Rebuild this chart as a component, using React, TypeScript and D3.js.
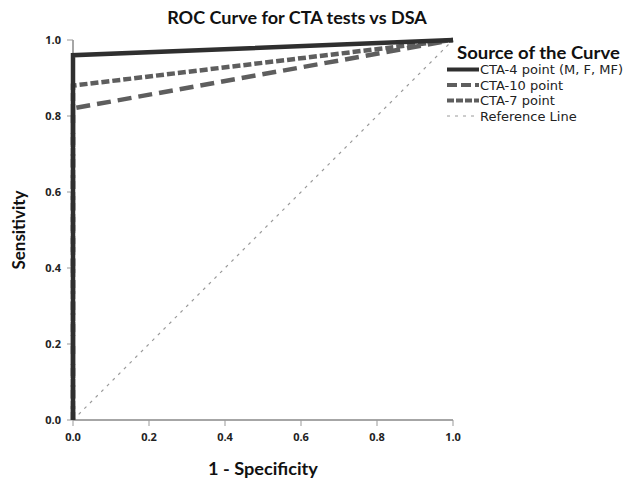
import React, { useLayoutEffect, useRef, useState } from "react";
import * as d3 from "d3";

const xTicks = [0, 0.2, 0.4, 0.6, 0.8, 1.0];
const yTicks = [0, 0.2, 0.4, 0.6, 0.8, 1.0];

const cta4: [number, number][] = [[0, 0], [0, 0.96], [1, 1]];
const cta10: [number, number][] = [[0, 0], [0, 0.82], [1, 1]];
const cta7: [number, number][] = [[0, 0], [0, 0.88], [1, 1]];
const refLine: [number, number][] = [[0, 0], [1, 1]];

const seriesNames = ["CTA-4 point (M, F, MF)", "CTA-10 point", "CTA-7 point", "Reference Line"];

const styles = [
  { color: "#2f2f2f", width: 4.5, dash: "none" },
  { color: "#5e5e5e", width: 4.5, dash: "14,7" },
  { color: "#5e5e5e", width: 4.5, dash: "8,3" },
  { color: "#9a9a9a", width: 1.2, dash: "3,5" },
];

function FitText(props: { x: number; y: number; width: number; rotate?: number; anchor?: string; children: string; [k: string]: any }) {
  const { x, y, width, rotate, anchor, children, ...rest } = props;
  const ref = useRef<SVGTextElement>(null);
  const [sx, setSx] = useState(1);
  useLayoutEffect(() => {
    if (ref.current) {
      const w = ref.current.getComputedTextLength();
      if (w > 0) setSx(width / w);
    }
  }, [width, children]);
  return (
    <g transform={`translate(${x},${y})${rotate ? ` rotate(${rotate})` : ""} scale(${sx},1)`}>
      <text ref={ref} x={0} y={0} textAnchor={anchor || "start"} {...rest}>{children}</text>
    </g>
  );
}

export default function App() {
  const W = 628, H = 481;
  const x = d3.scaleLinear().domain([0, 1]).range([73, 453]);
  const y = d3.scaleLinear().domain([0, 1]).range([420, 40]);
  const line = d3.line<[number, number]>().x(d => x(d[0])).y(d => y(d[1]));
  const data = [cta4, cta10, cta7, refLine];
  const font = "'Open Sans', 'DejaVu Sans', sans-serif";
  const titleFont = "Lato, 'Open Sans', sans-serif";
  return (
    <svg width={W} height={H} style={{ position: "absolute", left: 0, top: 0, background: "#fff" }} fontFamily={font}>
      <rect width={W} height={H} fill="#fff" />
      <FitText x={297} y={24} width={260} anchor="middle" fontSize={17} fontWeight="bold" fill="#111" fontFamily={titleFont}>
        ROC Curve for CTA tests vs DSA
      </FitText>
      {/* axes */}
      <line x1={x(0)} x2={x(1)} y1={y(0)} y2={y(0)} stroke="#888" strokeWidth={1.5} />
      <line x1={x(0)} x2={x(0)} y1={y(0)} y2={y(1)} stroke="#888" strokeWidth={1.5} />
      {yTicks.map(t => (
        <g key={"y" + t}>
          <line x1={x(0) - 6} x2={x(0)} y1={y(t)} y2={y(t)} stroke="#999" strokeWidth={1} />
          <text x={x(0) - 12} y={y(t) + 4} textAnchor="end" fontSize={11} fontWeight="bold" fill="#222">{t.toFixed(1)}</text>
        </g>
      ))}
      {xTicks.map(t => (
        <g key={"x" + t}>
          <line x1={x(t)} x2={x(t)} y1={y(0)} y2={y(0) + 6} stroke="#999" strokeWidth={1} />
          <text x={x(t)} y={y(0) + 21} textAnchor="middle" fontSize={11} fontWeight="bold" fill="#222">{t.toFixed(1)}</text>
        </g>
      ))}
      <FitText x={263} y={475} width={110} anchor="middle" fontSize={17} fontWeight="bold" fill="#111" fontFamily={titleFont}>
        1 - Specificity
      </FitText>
      <FitText x={25} y={y(0.5)} rotate={-90} width={79} anchor="middle" fontSize={17} fontWeight="bold" fill="#111" fontFamily={titleFont}>
        Sensitivity
      </FitText>
      {/* curves, drawn reference first */}
      {[3, 2, 1, 0].map(i => (
        <path key={i} d={line(data[i]) || ""} fill="none" stroke={styles[i].color} strokeWidth={styles[i].width}
          strokeDasharray={styles[i].dash} strokeLinecap="butt" strokeLinejoin="miter" />
      ))}
      {/* legend */}
      <FitText x={457} y={58.5} width={163} fontSize={17} fontWeight="bold" fill="#111" fontFamily={titleFont}>
        Source of the Curve
      </FitText>
      {seriesNames.map((n, i) => (
        <g key={n} transform={`translate(0,${74 + i * 15.5})`}>
          <line x1={447} x2={479} y1={-4.5} y2={-4.5} stroke={styles[i].color} strokeWidth={i === 3 ? 1 : 4}
            strokeDasharray={i === 1 ? "10,4" : i === 2 ? "7,2" : styles[i].dash} />
          <text x={480} y={0} fontSize={13} fontFamily="'DejaVu Sans', sans-serif" fill="#222">{n}</text>
        </g>
      ))}
    </svg>
  );
}
